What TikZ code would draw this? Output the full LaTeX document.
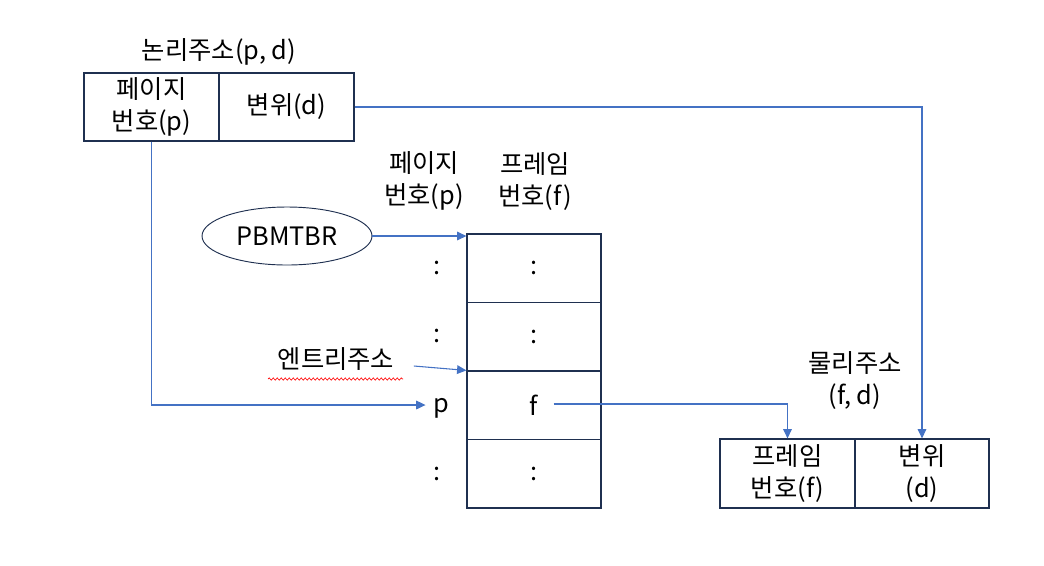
\documentclass[tikz,border=0pt]{standalone}
\usepackage{fontspec}
\setmainfont{Noto Sans CJK KR}
\usetikzlibrary{arrows.meta,calc,decorations.pathmorphing,shapes.geometric}
\definecolor{boxline}{HTML}{1F3050}
\definecolor{conn}{HTML}{4472C4}
\begin{document}
\begin{tikzpicture}[x=0.75pt,y=-0.75pt,
  every node/.style={font=\fontsize{19}{24}\selectfont, text=black},
  cell/.style={draw=boxline, line width=0.9pt, inner sep=0pt, align=center},
  lbl/.style={align=center, inner sep=1pt},
  arr/.style={draw=conn, line width=0.8pt, -{Triangle[width=6.5pt,length=7pt]}}]
\useasboundingbox (0,0) rectangle (1044,565);
% logical address
\node[lbl] (lt) at (219,52) {논리주소(p, d)};
\node[cell, minimum width={135*0.75pt}, minimum height={68*0.75pt}] (la) at (151.5,107) {페이지\\번호(p)};
\node[cell, minimum width={135*0.75pt}, minimum height={68*0.75pt}] (lb) at (286.5,107) {변위(d)};
% table headers
\node[lbl] (hp) at (424,181) {페이지\\번호(p)};
\node[lbl] (hf) at (535,181) {프레임\\번호(f)};
% PBMTBR
\node[draw=boxline, line width=0.7pt, ellipse, minimum width={170*0.75pt}, minimum height={58*0.75pt}, inner sep=0pt] (ell) at (287,236) {PBMTBR};
% table
\node[cell, minimum width={134*0.75pt}, minimum height={68.5*0.75pt}] (r1) at (534,268.25) {:};
\node[cell, minimum width={134*0.75pt}, minimum height={68.5*0.75pt}] (r2) at (534,336.75) {:};
\node[cell, minimum width={134*0.75pt}, minimum height={68.5*0.75pt}] (r3) at (534,405.25) {};
\node[cell, minimum width={134*0.75pt}, minimum height={68.5*0.75pt}] (r4) at (534,473.75) {:};
\node[lbl] (f) at (534,405) {f};
\node[lbl] (c1) at (437,268) {:};
\node[lbl] (c2) at (437,336) {:};
\node[lbl] (p) at (441,408) {p};
\node[lbl] (c4) at (437,474) {:};
% entry address
\node[lbl] (entry) at (336,359) {엔트리주소};
\draw[red, line width=0.5pt, decorate, decoration={snake, amplitude=0.8pt, segment length=3pt}] (268,379) -- (403,379);
% physical address
\node[lbl] (pt) at (855,380) {물리주소\\(f, d)};
\node[cell, minimum width={135*0.75pt}, minimum height={69*0.75pt}] (pa) at (787.5,473.5) {프레임\\번호(f)};
\node[cell, minimum width={134*0.75pt}, minimum height={69*0.75pt}] (pb) at (922,473.5) {변위\\(d)};
% connectors
\draw[arr] (lb.east) -| (pb.north);
\draw[arr] (la.south) |- ($(p.west)+(-6,-3)$);
\draw[arr] (ell.east) -- (ell.east -| r1.west);
\draw[arr] ($(entry.east)+(18,7)$) -- (r3.north west);
\draw[arr] ($(f.east)+(14,-1)$) -| (pa.north);
\end{tikzpicture}
\end{document}
